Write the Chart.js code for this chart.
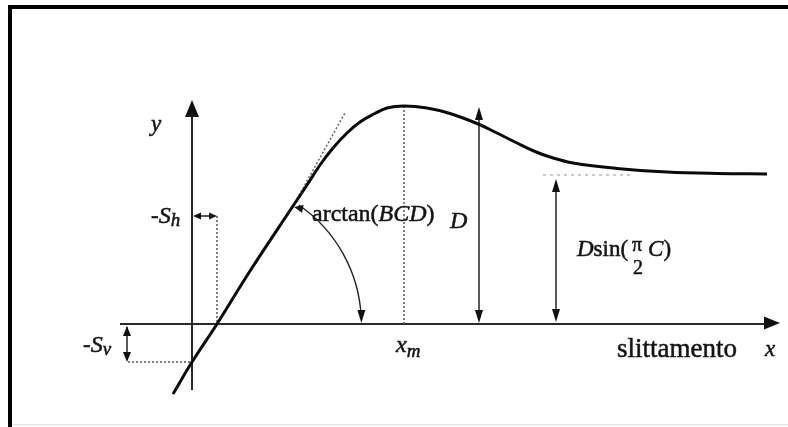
<!DOCTYPE html>
<html>
<head>
<meta charset="utf-8">
<script src="https://cdn.jsdelivr.net/npm/chart.js@4.4.1/dist/chart.umd.min.js"></script>
<style>
  html, body { margin: 0; padding: 0; background: #fff; }
  #wrap { width: 788px; height: 427px; }
</style>
</head>
<body>
<div id="wrap"><canvas id="c" width="788" height="427"></canvas></div>
<script>
// ---- data (slip x, force y; origin at the axes crossing) ----
const slipValues  = [-0.19, 0.00, 0.25, 0.58, 1.01, 1.15, 1.28, 1.41, 1.55, 1.68, 1.82, 1.95, 2.12, 2.35, 2.58, 2.85, 3.05, 3.25, 3.43, 3.58, 3.81, 4.25, 4.75, 5.25, 5.75];
const forceValues = [-0.70, -0.38, 0.00, 0.53, 1.18, 1.39, 1.59, 1.76, 1.91, 2.02, 2.10, 2.16, 2.18, 2.16, 2.105, 2.005, 1.91, 1.81, 1.725, 1.67, 1.61, 1.555, 1.52, 1.505, 1.50];
const tangentSlip  = [1.01, 1.53];
const tangentForce = [1.18, 2.11];
const axisLabels = { y: 'y', x: 'x', xAxisName: 'slittamento' };

const curvePts = slipValues.map((x, i) => ({ x, y: forceValues[i] }));
const tangentPts = tangentSlip.map((x, i) => ({ x, y: tangentForce[i] }));

// derived quantities
const iCross = forceValues.indexOf(0);
const xCross = slipValues[iCross];                 // -Sh
const svVal = forceValues[slipValues.indexOf(0)];  // -Sv
let iPeak = 0; forceValues.forEach((v, i) => { if (v > forceValues[iPeak]) iPeak = i; });
const xPeak = slipValues[iPeak], dPeak = forceValues[iPeak];
const asym = forceValues[forceValues.length - 1];
const iMark = 4;

function arrowHead(ctx, x, y, ang, len, w) {
  ctx.beginPath();
  ctx.moveTo(x, y);
  ctx.lineTo(x - len * Math.cos(ang) + (w / 2) * Math.sin(ang), y - len * Math.sin(ang) - (w / 2) * Math.cos(ang));
  ctx.lineTo(x - len * Math.cos(ang) - (w / 2) * Math.sin(ang), y - len * Math.sin(ang) + (w / 2) * Math.cos(ang));
  ctx.closePath();
  ctx.fill();
}
function line(ctx, x1, y1, x2, y2) { ctx.beginPath(); ctx.moveTo(x1, y1); ctx.lineTo(x2, y2); ctx.stroke(); }
function txt(ctx, t, x, y) { ctx.fillText(t, x, y); ctx.strokeText(t, x, y); }
function runs(ctx, x, y, parts) {
  let cx = x;
  parts.forEach(p => {
    ctx.font = p.f;
    txt(ctx, p.t, cx, y + (p.dy || 0));
    cx += ctx.measureText(p.t).width + (p.gap || 0);
  });
  return cx;
}

const serif = '"Liberation Serif", "DejaVu Serif", serif';

const decor = {
  id: 'decor',
  beforeDraw(chart) {
    const ctx = chart.ctx;
    ctx.save();
    ctx.fillStyle = '#fff';
    ctx.fillRect(0, 0, chart.width, chart.height);
    ctx.fillStyle = '#000';
    ctx.fillRect(8, 5, chart.width - 8, 4);
    ctx.fillRect(8, 5, 4, chart.height - 5);
    ctx.fillStyle = '#e4e4e4';
    ctx.fillRect(12, 424, chart.width - 12, 1);
    ctx.restore();
  },
  beforeDatasetsDraw(chart) {
    const ctx = chart.ctx;
    const X = v => chart.scales.x.getPixelForValue(v);
    const Y = v => chart.scales.y.getPixelForValue(v);
    const ox = X(0), oy = Y(0);
    ctx.save();
    ctx.strokeStyle = '#2a2a2a';
    ctx.fillStyle = '#111';
    ctx.lineWidth = 2;
    // axes
    line(ctx, ox, Y(-0.66), ox, Y(2.15));
    arrowHead(ctx, ox, Y(2.24), -Math.PI / 2, 17, 14);
    line(ctx, X(-0.72), oy, X(5.75), oy);
    arrowHead(ctx, X(5.88), oy - 1, 0, 16, 13);

    // dotted helpers
    ctx.lineWidth = 1.5;
    ctx.strokeStyle = '#555';
    ctx.setLineDash([2, 2]);
    line(ctx, X(xCross), Y(1.08), X(xCross), oy);        // Sh drop
    line(ctx, X(-0.64), Y(svVal), ox, Y(svVal));         // Sv level
    line(ctx, X(xPeak), Y(dPeak), X(xPeak), oy);         // xm
    ctx.strokeStyle = '#bbb';
    ctx.setLineDash([3, 4]);
    line(ctx, X(3.51), Y(asym - 0.01), X(4.4), Y(asym - 0.01));
    ctx.setLineDash([]);

    // double arrows
    ctx.strokeStyle = '#222';
    ctx.lineWidth = 1.5;
    // D
    line(ctx, X(2.87), Y(dPeak) + 6, X(2.87), oy - 6);
    arrowHead(ctx, X(2.87), Y(dPeak) + 1, -Math.PI / 2, 13, 8);
    arrowHead(ctx, X(2.87), oy - 1, Math.PI / 2, 13, 8);
    // D sin
    line(ctx, X(3.64), Y(asym) + 8, X(3.64), oy - 6);
    arrowHead(ctx, X(3.64), Y(asym) + 5, -Math.PI / 2, 13, 8);
    arrowHead(ctx, X(3.64), oy - 2, Math.PI / 2, 13, 8);
    // Sh
    line(ctx, ox + 3, Y(1.08), X(xCross) - 3, Y(1.08));
    arrowHead(ctx, ox + 1, Y(1.08), Math.PI, 8, 7);
    arrowHead(ctx, X(xCross), Y(1.08), 0, 8, 7);
    // Sv
    line(ctx, X(-0.65), oy + 3, X(-0.65), Y(svVal) - 3);
    arrowHead(ctx, X(-0.65), oy + 2, -Math.PI / 2, 10, 8);
    arrowHead(ctx, X(-0.65), Y(svVal), Math.PI / 2, 10, 8);

    // arc for arctan(BCD)
    const cx = X(xCross), cy = oy;
    const mx = X(slipValues[iMark]), my = Y(forceValues[iMark]);
    const r = Math.hypot(mx - cx, my - cy) + 4;
    const a0 = Math.atan2(my - cy, mx - cx) + 0.03;
    ctx.lineWidth = 1.4;
    ctx.beginPath();
    ctx.arc(cx, cy, r, a0, -0.05);
    ctx.stroke();
    arrowHead(ctx, cx + r, cy - 1, Math.PI / 2, 13, 8);
    arrowHead(ctx, mx + 1, my + 1, a0 - Math.PI / 2 - 0.4, 9, 8);

    // texts
    ctx.fillStyle = '#141414';
    ctx.strokeStyle = '#141414';
    ctx.lineWidth = 0.5;
    ctx.textBaseline = 'alphabetic';
    const it = s => 'italic ' + s + 'px ' + serif;
    const rm = s => s + 'px ' + serif;
    runs(ctx, 151, 131, [{ t: axisLabels.y, f: it(23) }]);
    runs(ctx, 151, 223, [{ t: '-', f: rm(23) }, { t: 'S', f: it(24) }, { t: 'h', f: it(19), dy: 3 }]);
    runs(ctx, 83, 352, [{ t: '-', f: rm(23) }, { t: 'S', f: it(24) }, { t: 'v', f: it(19), dy: 3 }]);
    runs(ctx, 312, 221, [{ t: 'arctan(', f: rm(24) }, { t: 'BCD', f: it(24) }, { t: ')', f: rm(24) }]);
    runs(ctx, 450, 228, [{ t: 'D', f: it(24) }]);
    let e = runs(ctx, 577, 256, [{ t: 'D', f: it(23) }, { t: 'sin(', f: rm(23), gap: 4 }]);
    ctx.font = rm(20);
    txt(ctx, '\u03c0', e, 251);
    txt(ctx, '2', e + 1, 274);
    runs(ctx, e + 16, 256, [{ t: 'C', f: it(23) }, { t: ')', f: rm(23) }]);
    runs(ctx, 396, 352, [{ t: 'x', f: it(24) }, { t: 'm', f: it(19), dy: 5 }]);
    runs(ctx, 617, 357, [{ t: axisLabels.xAxisName, f: rm(27) }]);
    runs(ctx, 765, 356, [{ t: axisLabels.x, f: it(23) }]);
    ctx.restore();
  }
};

new Chart(document.getElementById('c'), {
  type: 'scatter',
  data: {
    datasets: [
      {
        label: 'curve',
        data: curvePts,
        showLine: true,
        borderColor: '#0a0a0a',
        borderWidth: 3,
        pointRadius: 0,
        tension: 0.4,
        order: 1
      },
      {
        label: 'tangent',
        data: tangentPts,
        showLine: true,
        borderColor: '#666',
        borderWidth: 1.5,
        borderDash: [2, 2],
        pointRadius: 0,
        order: 2
      }
    ]
  },
  options: {
    responsive: false,
    devicePixelRatio: 1,
    animation: false,
    layout: { padding: 0 },
    plugins: { legend: { display: false }, tooltip: { enabled: false } },
    scales: {
      x: { type: 'linear', min: -1.92, max: 5.96, display: false },
      y: { type: 'linear', min: -1.03, max: 3.24, display: false }
    }
  },
  plugins: [decor]
});
</script>
</body>
</html>
